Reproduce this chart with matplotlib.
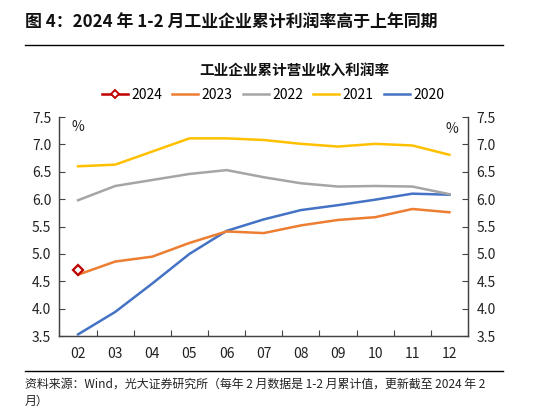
import numpy as np
import matplotlib
matplotlib.use('Agg')
import matplotlib.pyplot as plt
from matplotlib.lines import Line2D

plt.rcParams['font.family'] = ['Noto Sans CJK SC', 'DejaVu Sans']

months = ['02', '03', '04', '05', '06', '07', '08', '09', '10', '11', '12']
y2024 = [4.70]
y2023 = [4.62, 4.86, 4.95, 5.20, 5.41, 5.38, 5.52, 5.62, 5.67, 5.82, 5.76]
y2022 = [5.98, 6.24, 6.35, 6.46, 6.53, 6.40, 6.29, 6.23, 6.24, 6.23, 6.09]
y2021 = [6.60, 6.63, 6.87, 7.11, 7.11, 7.08, 7.01, 6.96, 7.01, 6.98, 6.81]
y2020 = [3.53, 3.94, 4.46, 5.00, 5.42, 5.63, 5.80, 5.89, 5.99, 6.10, 6.08]

C24, C23, C22, C21, C20 = '#C00000', '#ED7D31', '#A5A5A5', '#FFC000', '#4472C4'

fig = plt.figure(figsize=(5.54, 4.13), dpi=100)
ax = fig.add_axes([0.1074, 0.1864, 0.7374, 0.5303])
ax2 = ax.twinx()

x = np.arange(len(months))
ax.plot(x, y2020, color=C20, lw=1.8, zorder=3)
ax.plot(x, y2021, color=C21, lw=1.8, zorder=3)
ax.plot(x, y2022, color=C22, lw=1.8, zorder=3)
ax.plot(x, y2023, color=C23, lw=1.8, zorder=3)
ax.plot(x[:len(y2024)], y2024, color=C24, lw=1.8, marker='D', ms=5.5,
        mfc='white', mec=C24, mew=1.6, zorder=4)

for a in (ax, ax2):
    a.set_ylim(3.5, 7.5)
    a.set_yticks(np.arange(3.5, 7.51, 0.5))
    a.set_yticklabels([f'{v:.1f}' for v in np.arange(3.5, 7.51, 0.5)], fontsize=10, color='#222222')
    a.tick_params(axis='y', direction='in', length=4, width=0.8, color='#444444', pad=6)
    a.spines['top'].set_visible(False)
    for s in ('left', 'right', 'bottom'):
        a.spines[s].set_color('#444444')
        a.spines[s].set_linewidth(0.9)

ax.set_xlim(-0.5, len(months) - 0.5)
ax.set_xticks(x)
ax.set_xticklabels(months, fontsize=10, color='#222222')
ax.set_xticks(np.arange(-0.5, len(months), 1), minor=True)
ax.tick_params(axis='x', which='major', length=0, pad=8)
ax.tick_params(axis='x', which='minor', direction='in', length=4, width=0.8, color='#444444')

ax.text(0.03, 0.985, '%', transform=ax.transAxes, fontsize=10, va='top', ha='left', color='#222222')
ax.text(0.975, 0.975, '%', transform=ax.transAxes, fontsize=10, va='top', ha='right', color='#222222')

# title and rules
fig.text(0.045, 0.945, '图 4：2024 年 1-2 月工业企业累计利润率高于上年同期', fontsize=12.2,
         fontweight='bold', ha='left', va='center', color='#111111')
fig.add_artist(Line2D([0.045, 0.908], [0.891, 0.891], color='black', lw=1.0))
fig.add_artist(Line2D([0.045, 0.908], [0.102, 0.102], color='black', lw=1.0))

fig.text(0.531, 0.830, '工业企业累计营业收入利润率', fontsize=10.5, fontweight='bold',
         ha='center', va='center', color='#111111')

handles = [
    Line2D([], [], color=C24, lw=1.8, marker='D', ms=4.5, mfc='white', mec=C24, mew=1.4),
    Line2D([], [], color=C23, lw=1.8),
    Line2D([], [], color=C22, lw=1.8),
    Line2D([], [], color=C21, lw=1.8),
    Line2D([], [], color=C20, lw=1.8),
]
fig.legend(handles, ['2024', '2023', '2022', '2021', '2020'], loc='center',
           bbox_to_anchor=(0.493, 0.770), ncol=5, frameon=False, fontsize=10,
           handlelength=1.85, handletextpad=0.25, columnspacing=0.75)

fig.text(0.045, 0.070, '资料来源：Wind，光大证券研究所（每年 2 月数据是 1-2 月累计值，更新截至 2024 年 2',
         fontsize=8.6, ha='left', va='center', color='#222222')
fig.text(0.045, 0.027, '月）', fontsize=8.6, ha='left', va='center', color='#222222')

fig.savefig('out.png', dpi=100, facecolor='white')
